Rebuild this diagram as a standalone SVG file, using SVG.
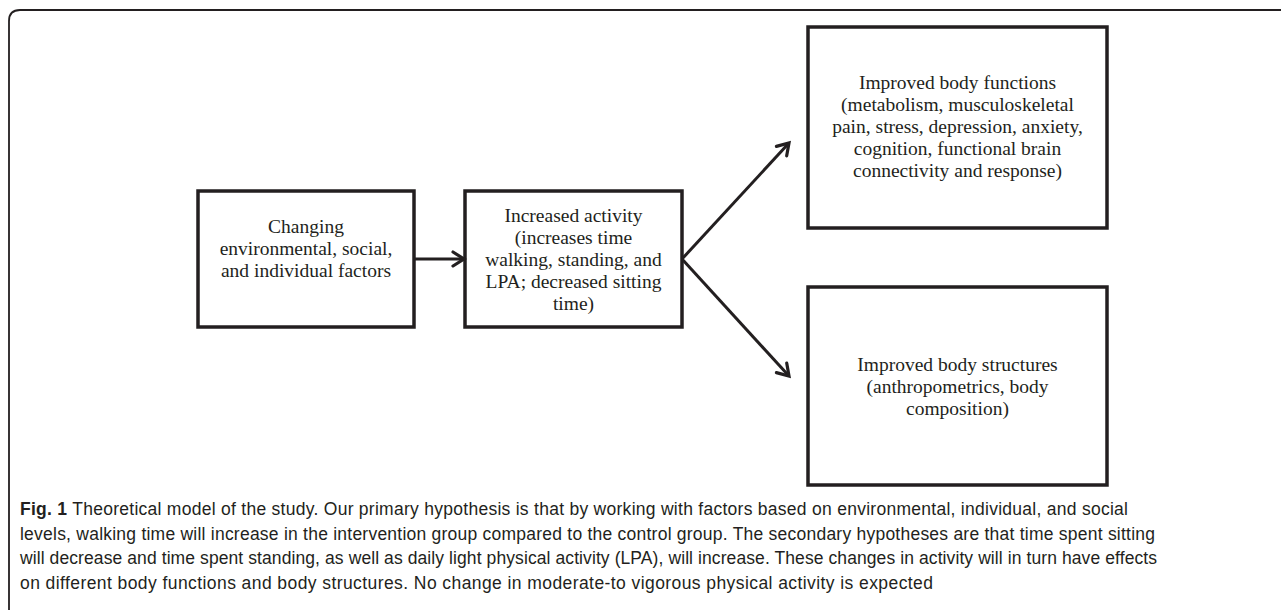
<svg xmlns="http://www.w3.org/2000/svg" width="1281" height="610" viewBox="0 0 1281 610">
<defs>
<style>
.box{fill:#fff;stroke:#231f20;stroke-width:3.5}
.t{font-family:"Liberation Serif","DejaVu Serif",serif;font-size:19.5px;fill:#231f20;text-anchor:middle}
.c{font-family:"Liberation Sans","Noto Sans",sans-serif;font-size:17.5px;fill:#231f20}
.a{stroke:#231f20;stroke-width:3;fill:none}
</style>
<marker id="ah" markerUnits="userSpaceOnUse" markerWidth="20" markerHeight="20" viewBox="0 0 20 20" refX="15" refY="10" orient="auto">
<path d="M4,3 L15,10 L4,17" fill="none" stroke="#231f20" stroke-width="3.2" stroke-linecap="round" stroke-linejoin="miter"/>
</marker>
</defs>
<rect width="1281" height="610" fill="#fff"/>
<path d="M9,610 V21 Q9,10 20,10 H1281" fill="none" stroke="#231f20" stroke-width="1.8"/>
<g id="n1">
<rect class="box" x="198" y="191" width="216" height="136"/>
<text class="t" x="306" y="233">Changing</text>
<text class="t" x="306" y="255">environmental, social,</text>
<text class="t" x="306" y="277">and individual factors</text>
</g>
<g id="n2">
<rect class="box" x="465" y="191" width="217" height="136"/>
<text class="t" x="573.5" y="222">Increased activity</text>
<text class="t" x="573.5" y="244">(increases time</text>
<text class="t" x="573.5" y="266">walking, standing, and</text>
<text class="t" x="573.5" y="288">LPA; decreased sitting</text>
<text class="t" x="573.5" y="310">time)</text>
</g>
<g id="n3">
<rect class="box" x="808" y="27" width="299" height="201"/>
<text class="t" x="957.5" y="89">Improved body functions</text>
<text class="t" x="957.5" y="111">(metabolism, musculoskeletal</text>
<text class="t" x="957.5" y="133">pain, stress, depression, anxiety,</text>
<text class="t" x="957.5" y="155">cognition, functional brain</text>
<text class="t" x="957.5" y="177">connectivity and response)</text>
</g>
<g id="n4">
<rect class="box" x="808" y="287" width="299" height="198"/>
<text class="t" x="957.5" y="371">Improved body structures</text>
<text class="t" x="957.5" y="393">(anthropometrics, body</text>
<text class="t" x="957.5" y="415">composition)</text>
</g>
<g id="connectors">
<line class="a" x1="414" y1="259" x2="464" y2="259" marker-end="url(#ah)"/>
<line class="a" x1="682" y1="259" x2="789" y2="143" marker-end="url(#ah)"/>
<line class="a" x1="682" y1="259" x2="789" y2="376" marker-end="url(#ah)"/>
</g>
<g id="caption">
<text class="c" x="20" y="515" textLength="1108" lengthAdjust="spacing"><tspan font-weight="bold">Fig. 1</tspan> Theoretical model of the study. Our primary hypothesis is that by working with factors based on environmental, individual, and social</text>
<text class="c" x="20" y="540" textLength="1135" lengthAdjust="spacing">levels, walking time will increase in the intervention group compared to the control group. The secondary hypotheses are that time spent sitting</text>
<text class="c" x="20" y="564" textLength="1137" lengthAdjust="spacing">will decrease and time spent standing, as well as daily light physical activity (LPA), will increase. These changes in activity will in turn have effects</text>
<text class="c" x="20" y="589" textLength="913" lengthAdjust="spacing">on different body functions and body structures. No change in moderate-to vigorous physical activity is expected</text>
</g>
</svg>
